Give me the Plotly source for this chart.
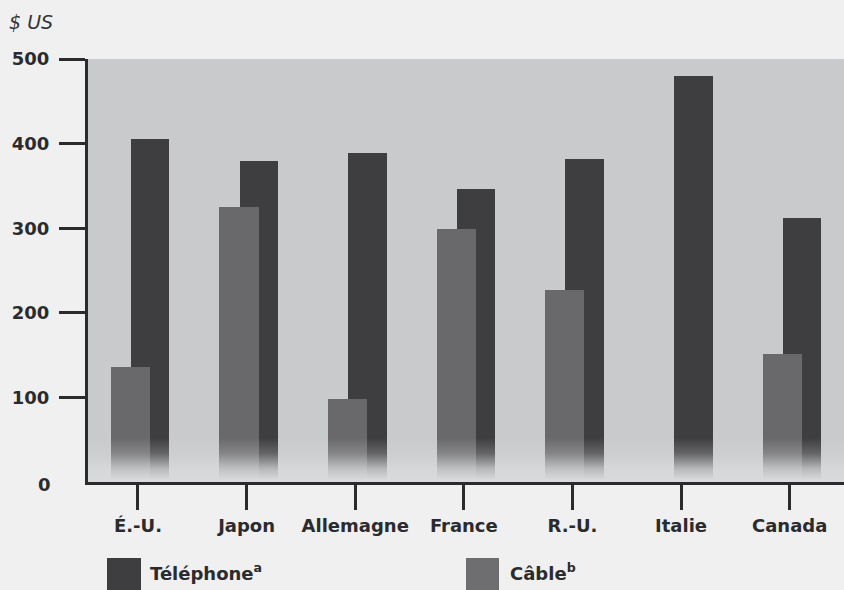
import base64
import plotly.graph_objects as go

# Monthly-equivalent spending by country (US dollars)
countries = ["É.-U.", "Japon", "Allemagne", "France", "R.-U.", "Italie", "Canada"]
telephone = [405, 379, 389, 346, 382, 480, 312]
cable = [136, 325, 98, 299, 227, None, 151]
y_ticks = [100, 200, 300, 400, 500]

INK = "#2b2b2d"
DARK = "#3e3e41"
MID = "#69696c"
PLOT_BG = "#c9cacc"
PAPER_BG = "#f0f0f0"
FADE = "#d9dadc"
FONT = "DejaVu Sans"

W, H = 844, 590
L, R, T, B = 88, 0, 59, 108
PW, PH = W - L - R, H - T - B


def px_x(px):
    return (px - L) / PW


def px_y(py):
    return (H - B - py) / PH


fig = go.Figure()

# Telephone bars sit behind the cable bars, shifted right
fig.add_trace(go.Bar(
    x=countries, y=telephone, name="Téléphone",
    marker=dict(color=DARK, line=dict(width=0)),
    width=0.355, offset=-0.065, showlegend=False,
))
fig.add_trace(go.Bar(
    x=countries, y=cable, name="Câble",
    marker=dict(color=MID, line=dict(width=0)),
    width=0.36, offset=-0.25, showlegend=False,
))

# Soft fade of the bar bases into the background: a vertical SVG gradient overlay
fade_svg = (
    '<svg xmlns="http://www.w3.org/2000/svg" width="10" height="100" '
    'preserveAspectRatio="none">'
    '<defs><linearGradient id="g" x1="0" y1="0" x2="0" y2="1">'
    f'<stop offset="0" stop-color="{FADE}" stop-opacity="0"/>'
    f'<stop offset="0.35" stop-color="{FADE}" stop-opacity="0.25"/>'
    f'<stop offset="0.7" stop-color="{FADE}" stop-opacity="0.78"/>'
    f'<stop offset="0.92" stop-color="{FADE}" stop-opacity="0.97"/>'
    f'<stop offset="1" stop-color="{FADE}" stop-opacity="1"/>'
    '</linearGradient></defs>'
    '<rect width="10" height="100" fill="url(#g)"/></svg>'
)
fade_src = "data:image/svg+xml;base64," + base64.b64encode(fade_svg.encode()).decode()
fade_top = 52.0

images = [dict(
    source=fade_src, xref="paper", yref="y", x=0, y=fade_top,
    sizex=1, sizey=fade_top, sizing="stretch",
    xanchor="left", yanchor="top", layer="above", opacity=1,
)]

# Solid strip along the baseline so no bar edge peeks through below the fade
shapes = [dict(
    type="rect", xref="paper", yref="y", x0=0, x1=1, y0=0, y1=3,
    fillcolor=FADE, line=dict(width=0), layer="above",
)]

# Legend swatches
sw_top, sw_bot = px_y(558), px_y(592)
shapes.append(dict(type="rect", xref="paper", yref="paper",
                   x0=px_x(107), x1=px_x(141), y0=sw_bot, y1=sw_top,
                   fillcolor=DARK, line=dict(width=0)))
shapes.append(dict(type="rect", xref="paper", yref="paper",
                   x0=px_x(466), x1=px_x(499), y0=sw_bot, y1=sw_top,
                   fillcolor="#6e6e70", line=dict(width=0)))

annotations = [
    dict(text="<i>$ US</i>", xref="paper", yref="paper", x=px_x(7), y=px_y(22),
         xanchor="left", yanchor="middle", showarrow=False,
         font=dict(family=FONT, size=19, color="#333335")),
    dict(text="<b>0</b>", xref="paper", yref="paper", x=px_x(53), y=px_y(485),
         xanchor="right", yanchor="middle", showarrow=False,
         font=dict(family=FONT, size=18, color=INK)),
    dict(text="<b>Téléphone<sup>a</sup></b>", xref="paper", yref="paper",
         x=px_x(148), y=px_y(572), xanchor="left", yanchor="middle", showarrow=False,
         font=dict(family=FONT, size=18, color=INK)),
    dict(text="<b>Câble<sup>b</sup></b>", xref="paper", yref="paper",
         x=px_x(508), y=px_y(572), xanchor="left", yanchor="middle", showarrow=False,
         font=dict(family=FONT, size=18, color=INK)),
]

fig.update_layout(
    width=W, height=H,
    margin=dict(l=L, r=R, t=T, b=B, pad=0),
    paper_bgcolor=PAPER_BG,
    plot_bgcolor=PLOT_BG,
    barmode="overlay",
    bargap=0,
    shapes=shapes,
    images=images,
    annotations=annotations,
    font=dict(family=FONT, size=18, color=INK),
    xaxis=dict(
        type="category", range=[-0.46, 6.5],
        showgrid=False, zeroline=False,
        showline=True, linewidth=3, linecolor=INK,
        ticks="outside", ticklen=25, tickwidth=3, tickcolor=INK,
        tickfont=dict(family=FONT, size=18, color=INK, weight="bold"),
    ),
    yaxis=dict(
        range=[0, 500], tickvals=y_ticks,
        showgrid=False, zeroline=False,
        showline=True, linewidth=3, linecolor=INK,
        ticks="outside", ticklen=26, tickwidth=3, tickcolor=INK,
        ticklabelstandoff=6,
        tickfont=dict(family=FONT, size=18, color=INK, weight="bold"),
    ),
)

fig.write_html("out.html")
